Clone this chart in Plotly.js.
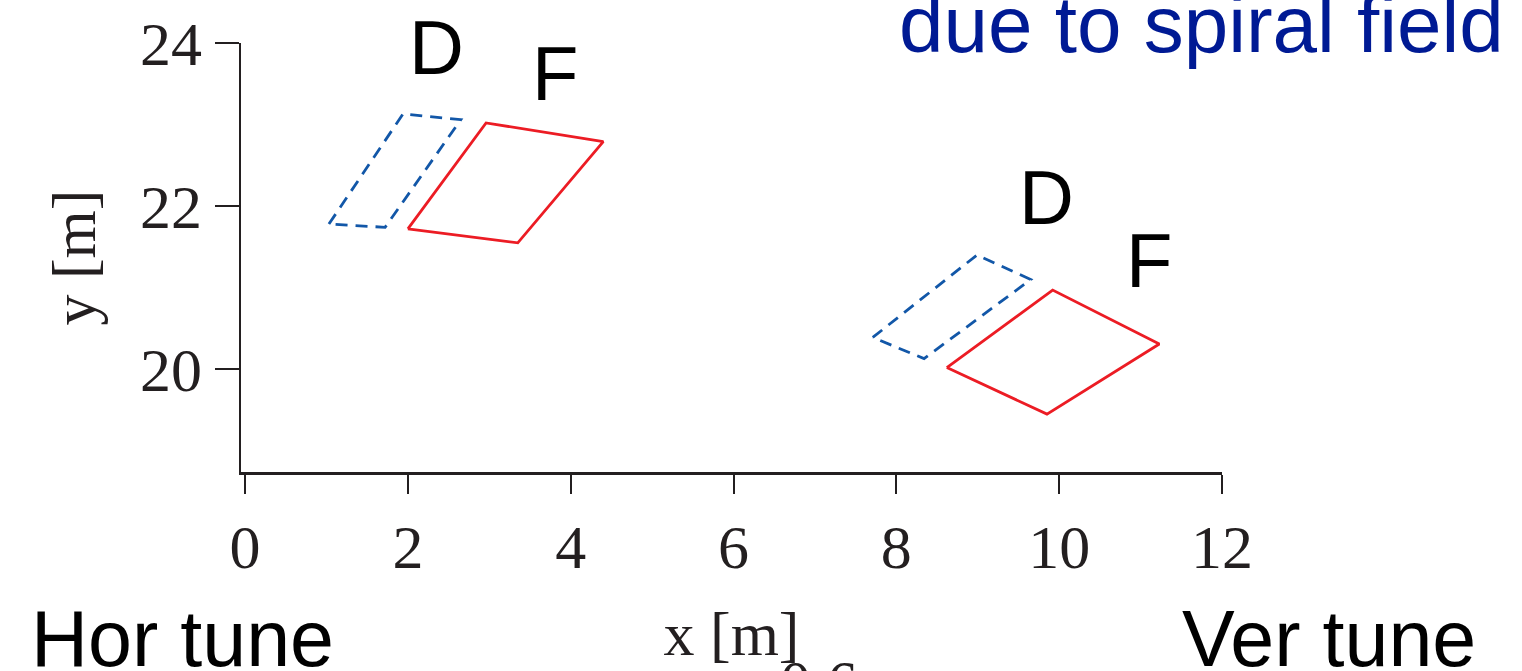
<!DOCTYPE html>
<html>
<head>
<meta charset="utf-8">
<script src="https://cdn.plot.ly/plotly-3.0.1.min.js"></script>
<style>
  html, body { margin: 0; padding: 0; background: #ffffff; }
  #chart { width: 1522px; height: 671px; }
</style>
</head>
<body>
<div id="chart"></div>
<script>
// Working-point footprints in the (x, y) plane, upper and lower groups.
// D = defocusing sector (dashed blue), F = focusing sector (solid red).
const upperD_x = [1.03, 1.94, 2.65, 1.72, 1.03];
const upperD_y = [21.78, 23.13, 23.06, 21.74, 21.78];
const upperF_x = [2.00, 2.96, 4.40, 3.35, 2.00];
const upperF_y = [21.72, 23.02, 22.79, 21.55, 21.72];

const lowerD_x = [7.71, 8.99, 9.65, 8.34, 7.71];
const lowerD_y = [20.39, 21.40, 21.10, 20.13, 20.39];
const lowerF_x = [8.62, 9.92, 11.23, 9.85, 8.62];
const lowerF_y = [20.02, 20.97, 20.31, 19.45, 20.02];

// Sector labels
const labelText = ["D", "F", "D", "F"];
const labelX = [2.35, 3.81, 9.85, 11.10];
const labelY = [23.94, 23.63, 22.11, 21.33];

// Axis ticks
const xTicks = [0, 2, 4, 6, 8, 10, 12];
const yTicks = [20, 22, 24];

const blue = "#1257a8";
const red = "#ec1c24";
const axisColor = "#231f20";

function outline(xs, ys, color, dash) {
  return {
    x: xs, y: ys, type: "scatter", mode: "lines",
    line: { color: color, width: 2.8, dash: dash },
    hoverinfo: "skip", showlegend: false
  };
}

const data = [
  outline(upperD_x, upperD_y, blue, "12px,8px"),
  outline(upperF_x, upperF_y, red, "solid"),
  outline(lowerD_x, lowerD_y, blue, "12px,8px"),
  outline(lowerF_x, lowerF_y, red, "solid")
];

const sans = "Liberation Sans, Arial, sans-serif";
const serif = "Liberation Serif, Times New Roman, serif";

const annotations = labelText.map((t, i) => ({
  text: t, x: labelX[i], y: labelY[i], xref: "x", yref: "y",
  showarrow: false, xanchor: "center", yanchor: "middle",
  font: { family: sans, size: 76, color: "#000000" }
}));

annotations.push(
  { text: "Hor tune", xref: "paper", yref: "paper", x: -0.216, y: -0.389,
    xanchor: "left", yanchor: "middle", showarrow: false,
    font: { family: sans, size: 79, color: "#000000" } },
  { text: "Ver tune", xref: "paper", yref: "paper", x: 0.957, y: -0.389,
    xanchor: "left", yanchor: "middle", showarrow: false,
    font: { family: sans, size: 79, color: "#000000" } },
  { text: "due to spiral field", xref: "paper", yref: "paper", x: 1.29, y: 1.044,
    xanchor: "right", yanchor: "middle", showarrow: false,
    font: { family: sans, size: 80, color: "#001a94" } },
  { text: "0.6", xref: "paper", yref: "paper", x: 0.589, y: -0.405,
    xanchor: "center", yanchor: "top", showarrow: false,
    font: { family: serif, size: 62, color: axisColor } }
);

const layout = {
  width: 1522, height: 671,
  margin: { l: 241, r: 300, t: 43, b: 199, pad: 0 },
  paper_bgcolor: "#ffffff", plot_bgcolor: "#ffffff",
  showlegend: false,
  xaxis: {
    range: [-0.05, 12], tickvals: xTicks, ticktext: xTicks.map(String),
    showgrid: false, zeroline: false, showline: true,
    linecolor: axisColor, linewidth: 2.5,
    ticks: "outside", ticklen: 19, tickwidth: 2, tickcolor: axisColor,
    tickfont: { family: serif, size: 62, color: axisColor },
    title: { text: "x [m]", standoff: 32, font: { family: serif, size: 62, color: axisColor } }
  },
  yaxis: {
    range: [18.74, 24], tickvals: yTicks, ticktext: yTicks.map(String),
    showgrid: false, zeroline: false, showline: true,
    linecolor: axisColor, linewidth: 2.5,
    ticks: "outside", ticklen: 24, tickwidth: 2, tickcolor: axisColor,
    tickfont: { family: serif, size: 62, color: axisColor },
    title: { text: "y [m]", standoff: 25, font: { family: serif, size: 62, color: axisColor } }
  },
  annotations: annotations
};

Plotly.newPlot("chart", data, layout, { displayModeBar: false, staticPlot: true });
</script>
</body>
</html>
